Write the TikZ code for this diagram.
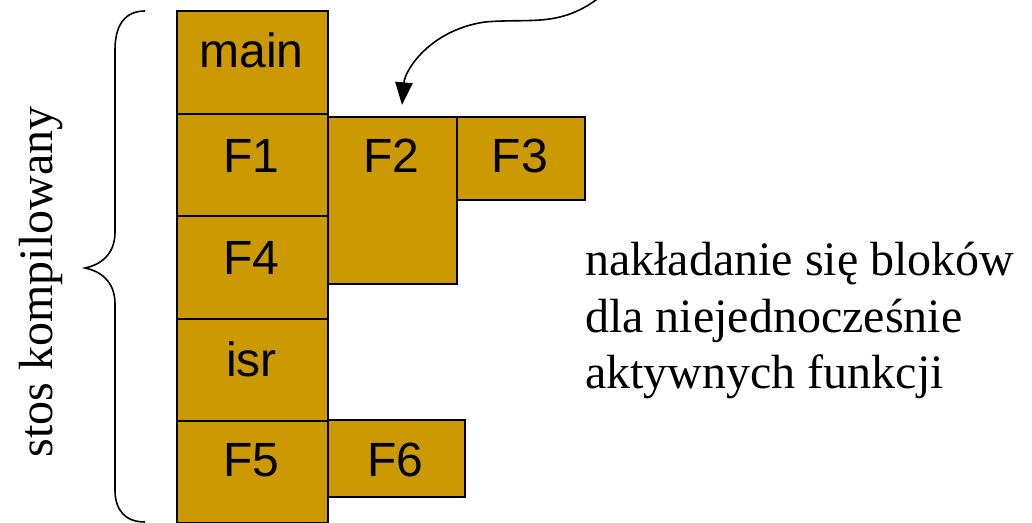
\documentclass[tikz,border=0pt]{standalone}
\usepackage{fontspec}
\setmainfont{Liberation Serif}
\newfontfamily\arialfont{Liberation Sans}
\usetikzlibrary{arrows.meta}
\definecolor{zloty}{RGB}{204,153,0}

\begin{document}
\begin{tikzpicture}[x=0.75pt,y=-0.75pt,
    blok/.style={draw,line width=1.6pt,fill=zloty,anchor=north west,inner sep=0pt},
    napis/.style={anchor=base,font=\arialfont\fontsize{36}{40}\selectfont}]
    \useasboundingbox (0,0) rectangle (1032,523);
    % stos
    \node[blok,minimum width=113.25pt,minimum height=77.25pt] (main) at (176,10) {};
    \node[blok,minimum width=113.25pt,minimum height=76.5pt] (F1) at (176,113) {};
    \node[blok,minimum width=113.25pt,minimum height=77.25pt] (F4) at (176,215) {};
    \node[blok,minimum width=113.25pt,minimum height=76.5pt] (isr) at (176,318) {};
    \node[blok,minimum width=113.25pt,minimum height=76.5pt] (F5) at (176,420) {};
    \node[blok,minimum width=96.75pt,minimum height=125.25pt] (F2) at (327,116) {};
    \node[blok,minimum width=96pt,minimum height=62.25pt] (F3) at (456,116) {};
    \node[blok,minimum width=102.75pt,minimum height=57.75pt] (F6) at (327,419) {};
    \node[napis] (tmain) at (251.5,68) {main};
    \node[napis] (tF1) at (251.5,173) {F1};
    \node[napis] (tF2) at (391.5,173) {F2};
    \node[napis] (tF3) at (520,173) {F3};
    \node[napis] (tF4) at (251.5,275) {F4};
    \node[napis] (tisr) at (251.5,377) {isr};
    \node[napis] (tF5) at (251.5,477) {F5};
    \node[napis] (tF6) at (395.5,477) {F6};
    % klamra
    \draw[line width=1.2pt] (145,11) .. controls (125,11) and (115,25) .. (115,50) -- (115,232)
      .. controls (115,255) and (100,265) .. (85,268)
      .. controls (100,271) and (115,281) .. (115,304) -- (115,490)
      .. controls (115,510) and (125,522) .. (145,522);
    \node[rotate=90,anchor=base,font=\fontsize{36}{40}\selectfont] (stos) at (52,282) {stos kompilowany};
    % strzalka
    \coordinate (poczatek) at (600,-3);
    \coordinate (cel) at (402,105);
    \draw[line width=1.2pt,-{Triangle[length=17pt,width=13pt]}] (poczatek) .. controls (560,28) and (530,18) .. (485,22)
      .. controls (430,30) and (405,70) .. (cel);
    \node[anchor=north west,inner sep=0pt,align=left,font=\fontsize{36}{42.4}\selectfont] (opis) at (585,242)
      {nakładanie się bloków\\dla niejednocześnie\\aktywnych funkcji};
\end{tikzpicture}
\end{document}
